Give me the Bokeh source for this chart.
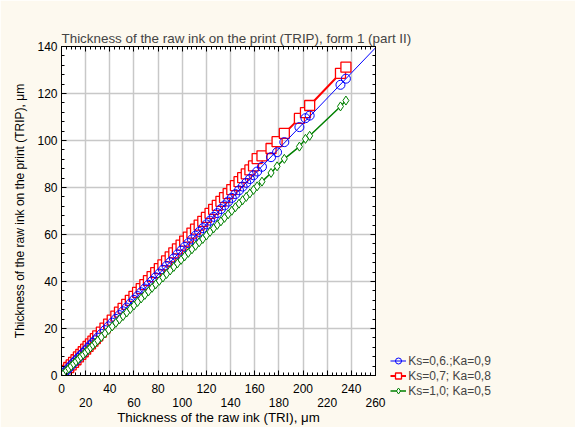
from bokeh.plotting import figure
from bokeh.embed import file_html
from bokeh.resources import INLINE
from bokeh.models import (LinearAxis, FixedTicker, Legend, LegendItem, Range1d,
                          CustomJSTickFormatter)
import numpy as np

# ---- data ----
tri = [0, 2, 4, 6, 8, 10, 12, 14, 16, 18, 20, 22, 24, 26, 28, 30, 33, 36, 39, 42,
       45, 48, 51, 54, 57, 60, 63, 66, 69, 72, 75, 78, 81, 84, 87, 90, 93, 96, 99,
       102, 105, 108, 111, 114, 117, 120, 123, 126, 129, 132, 135, 138, 141, 144,
       147, 150, 153, 156, 159, 162, 166, 173.5, 178.5, 184.5, 197, 202, 205.5,
       231, 235.5]
trip_blue = [0, 1.1, 2.1, 3.2, 4.3, 5.4, 6.4, 7.5, 8.6, 9.6, 10.7, 11.8, 12.9, 13.9,
             15.0, 16.1, 17.7, 19.3, 20.9, 22.5, 24.1, 25.7, 27.3, 28.9, 30.6, 32.2,
             33.8, 35.4, 37.0, 38.6, 40.2, 41.8, 43.4, 45.0, 46.6, 48.2, 49.8, 51.5,
             53.1, 54.7, 56.3, 57.9, 59.5, 61.1, 62.7, 64.3, 65.9, 67.5, 69.1, 70.8,
             72.4, 74.0, 75.6, 77.2, 78.8, 80.4, 82.0, 83.6, 85.2, 86.8, 88.8, 92.9,
             95.0, 99.3, 105.7, 109.5, 110.6, 123.7, 126.3]
trip_red = [0, 1.1, 2.2, 3.4, 4.5, 5.6, 6.7, 7.9, 9.0, 10.1, 11.2, 12.4, 13.5, 14.6,
            15.7, 16.9, 18.5, 20.2, 21.9, 23.6, 25.3, 27.0, 28.6, 30.3, 32.0, 33.7,
            35.4, 37.0, 38.7, 40.4, 42.1, 43.8, 45.5, 47.1, 48.8, 50.5, 52.2, 53.9,
            55.5, 57.2, 58.9, 60.6, 62.3, 64.0, 65.6, 67.3, 69.0, 70.7, 72.4, 74.1,
            75.7, 77.4, 79.1, 80.8, 82.5, 84.2, 85.8, 87.5, 89.2, 92.3, 93.5, 96.6,
            99.5, 103.0, 109.4, 111.9, 114.9, 128.6, 131.2]
trip_green = [0, 1.0, 2.0, 3.0, 4.0, 5.0, 6.0, 7.0, 8.0, 8.9, 9.9, 10.9, 11.9, 12.9,
              13.9, 14.9, 16.4, 17.9, 19.4, 20.9, 22.4, 23.9, 25.3, 26.8, 28.3, 29.8,
              31.3, 32.8, 34.3, 35.8, 37.3, 38.8, 40.3, 41.7, 43.2, 44.7, 46.2, 47.7,
              49.2, 50.7, 52.2, 53.7, 55.2, 56.7, 58.1, 59.6, 61.1, 62.6, 64.1, 65.6,
              67.1, 68.6, 70.1, 71.6, 73.1, 74.6, 76.0, 77.5, 79.0, 80.5, 82.5, 86.2,
              89.0, 92.2, 97.4, 100.7, 102.0, 114.5, 117.0]
series_labels = ["Ks=0,6.;Ka=0,9", "Ks=0,7; Ka=0,8", "Ks=1,0; Ka=0,5"]
x_ticks = list(range(0, 261, 20))
y_ticks = list(range(0, 141, 20))
x_ticks_row2 = [20, 60, 100, 140, 180, 220, 260]

title = "Thickness of the raw ink on the print (TRIP), form 1 (part II)"
x_label = "Thickness of the raw ink (TRI), \u03bcm"
y_label = "Thickness of the raw ink on the print (TRIP), \u03bcm"

CREAM = "#FDF9EF"
FONT = "Liberation Sans"

p = figure(frame_width=314, frame_height=329,
           x_range=Range1d(0, 260), y_range=Range1d(0, 140),
           output_backend="svg", toolbar_location=None,
           min_border_left=61, min_border_top=46, min_border_right=0,
           min_border_bottom=0,
           background_fill_color="white", border_fill_color=CREAM,
           outline_line_color="black", outline_line_width=1)

p.title.text = title
p.title.text_font = FONT
p.title.text_font_size = "13.4px"
p.title.text_font_style = "normal"
p.title.align = "left"
p.title.standoff = 1

def style_axis(ax):
    ax.major_tick_in = 5
    ax.major_tick_out = 0
    ax.minor_tick_in = 3
    ax.minor_tick_out = 0
    ax.axis_line_color = "black"
    ax.major_tick_line_color = "black"
    ax.minor_tick_line_color = "black"
    ax.major_label_text_font = FONT
    ax.major_label_text_font_size = "12px"
    ax.major_label_text_color = "black"
    ax.axis_label_text_font = FONT
    ax.axis_label_text_font_size = "13.3px"
    ax.axis_label_text_font_style = "normal"
    ax.axis_label_text_color = "black"

xminor = list(range(0, 261, 4))
yminor = list(range(0, 141, 4))

# bottom axis, first row of labels
xa = p.xaxis[0]
xa.ticker = FixedTicker(ticks=x_ticks, minor_ticks=xminor)
xa.formatter = CustomJSTickFormatter(code="return (tick % 40 == 0) ? tick.toFixed(0) : '';")
style_axis(xa)
xa.major_label_standoff = 8

# bottom axis, second row of labels
xa2 = LinearAxis(ticker=FixedTicker(ticks=x_ticks_row2))
style_axis(xa2)
xa2.axis_line_color = None
xa2.major_tick_line_color = None
xa2.minor_tick_line_color = None
xa2.major_label_standoff = 2
xa2.axis_label = x_label
xa2.axis_label_standoff = 0
p.add_layout(xa2, "below")

ya = p.yaxis[0]
ya.ticker = FixedTicker(ticks=y_ticks, minor_ticks=yminor)
style_axis(ya)
ya.major_label_standoff = 4
ya.axis_label = y_label
ya.axis_label_text_font_size = "12px"
ya.axis_label_standoff = 7

# top and right axes: ticks only
xt = LinearAxis(ticker=FixedTicker(ticks=x_ticks, minor_ticks=xminor))
style_axis(xt)
xt.major_label_text_font_size = "0px"
xt.major_label_standoff = 0
p.add_layout(xt, "above")
yr = LinearAxis(ticker=FixedTicker(ticks=y_ticks, minor_ticks=yminor))
style_axis(yr)
yr.major_label_text_font_size = "0px"
yr.major_label_standoff = 0
p.add_layout(yr, "right")

p.xgrid.ticker = FixedTicker(ticks=x_ticks)
p.ygrid.ticker = FixedTicker(ticks=y_ticks)
for g in (p.xgrid[0], p.ygrid[0]):
    g.grid_line_color = "#C8C8C8"
    g.grid_line_width = 1.5

# fit line for blue series (through origin)
xa_np = np.array(tri)
yb_np = np.array(trip_blue)
slope = float((xa_np * yb_np).sum() / (xa_np * xa_np).sum())
fit_x = [0, 270]
fit_y = [0, slope * 270]

BLUE = "#0000FF"
RED = "#FF0000"
GREEN = "#008000"

r_red_line = p.line(tri, trip_red, line_color=RED, line_width=2)
r_red = p.scatter(tri, trip_red, marker="square", size=10, line_color=RED,
                  fill_color="white", line_width=1.3)
r_blue_line = p.line(fit_x, fit_y, line_color=BLUE, line_width=1)
r_blue = p.scatter(tri, trip_blue, marker="circle", size=9, line_color=BLUE,
                   fill_color="white", fill_alpha=0, line_width=1)
r_green_line = p.line(tri, trip_green, line_color=GREEN, line_width=1.5)
r_green = p.scatter(tri, trip_green, marker="diamond", size=9, line_color=GREEN,
                    fill_color="white", line_width=1)

legend = Legend(items=[
    LegendItem(label=series_labels[0], renderers=[r_blue_line, r_blue]),
    LegendItem(label=series_labels[1], renderers=[r_red_line, r_red]),
    LegendItem(label=series_labels[2], renderers=[r_green_line, r_green]),
], location=(-227, -23))
legend.background_fill_alpha = 0
legend.border_line_color = None
legend.padding = 0
legend.margin = 0
legend.spacing = 0
legend.glyph_width = 16
legend.glyph_height = 15
legend.label_height = 15
legend.label_standoff = 2
legend.label_text_font = FONT
legend.label_text_font_size = "12px"
p.add_layout(legend, "right")

html = file_html(p, INLINE)
html = html.replace("<body>", '<body style="background:%s">' % CREAM, 1)
open("out.html", "w").write(html)
